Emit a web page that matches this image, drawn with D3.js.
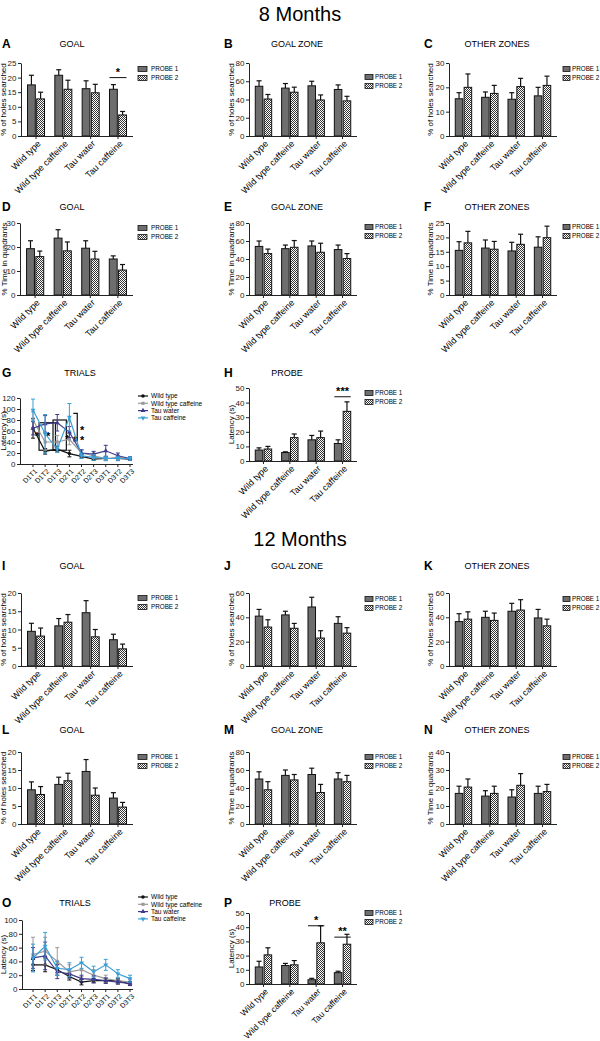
<!DOCTYPE html>
<html><head><meta charset="utf-8">
<script src="https://cdn.jsdelivr.net/npm/d3@7"></script>
<style>body{margin:0;background:#fff}svg{display:block;font-family:"Liberation Sans",Arial,sans-serif}</style>
</head><body>
<script>
// ---------- DATA ----------
const groups = ["Wild type","Wild type caffeine","Tau water","Tau caffeine"];
const probeNames = ["PROBE 1","PROBE 2"];
const trialLabels = ["D1T1","D1T2","D1T3","D2T1","D2T2","D2T3","D3T1","D3T2","D3T3"];
const trialSeries = ["Wild type","Wild type caffeine","Tau water","Tau caffeine"];

// 8 months
const A_p1=[17.5,20.8,16.2,16.0], A_e1=[3.3,1.9,2.7,1.6], A_p2=[12.7,16.0,14.8,7.2], A_e2=[2.3,3.1,2.9,1.2];
const A_ticks=[0,5,10,15,20,25]; const A_sig=[{g:"Tau caffeine",v:20,t:"*"}];
const B_p1=[54.5,52.5,55,51], B_e1=[6,5,5,5], B_p2=[40.5,48,39.5,38.5], B_e2=[5,5.5,5.5,5];
const B_ticks=[0,20,40,60,80];
const C_p1=[15.3,15.9,15.1,16.5], C_e1=[2.5,2.2,2.7,3.5], C_p2=[20,17.5,20.3,20.8], C_e2=[5.5,3.3,3.4,3.8];
const C_ticks=[0,10,20,30];
const D_p1=[19.3,23.7,19.5,15.0], D_e1=[3.3,3.5,3.1,1.3], D_p2=[16.0,18.4,15.0,10.4], D_e2=[2.3,3.7,3.2,2.3];
const D_ticks=[0,10,20,30];
const E_p1=[54,51.5,54.5,50.5], E_e1=[6,4,5.5,5], E_p2=[46,53,47.5,40.5], E_e2=[5,7.5,10,5.5];
const E_ticks=[0,20,40,60,80];
const F_p1=[15.5,16.3,15.3,16.6], F_e1=[3,2.8,3,3.6], F_p2=[18.1,15.9,17.6,19.9], F_e2=[4,2.7,3.5,4];
const F_ticks=[0,5,10,15,20,25];
const G_vals=[[65,23,27,19,14,9,10,10,9],[80,40,40,45,20,15,10,12,10],[65,73,75,58,20,18,24,15,10],[98,55,27,85,15,12,10,10,10]];
const G_errs=[[18,5,5,6,3,2,3,3,2],[15,15,12,10,5,5,3,4,3],[12,15,15,10,6,5,10,5,3],[20,35,6,25,5,5,4,4,3]];
const G_ticks=[0,20,40,60,80,100,120];
const H_p1=[7.5,5.8,14.5,12], H_e1=[1.5,0.5,3,2.5], H_p2=[8.2,16,16,34], H_e2=[1.8,2.5,4.5,6.5];
const H_ticks=[0,10,20,30,40,50]; const H_sig=[{g:"Tau caffeine",v:44,t:"***"}];
// 12 months
const I_p1=[9.5,11,14.6,7.2], I_e1=[2.2,2,3.3,1.5], I_p2=[8.2,12,8,4.7], I_e2=[2.2,2.1,2,1.3];
const I_ticks=[0,5,10,15,20];
const J_p1=[41,42,48.5,35], J_e1=[5.5,3,8,5.5], J_p2=[32,31,23,27], J_e2=[6,4,6,4.5];
const J_ticks=[0,20,40,60];
const K_p1=[36.5,40,45,39.5], K_e1=[6.5,5,6.5,7], K_p2=[38.5,37.5,46,33], K_e2=[6,6,8.5,5.5];
const K_ticks=[0,20,40,60];
const L_p1=[9.5,11,14.6,7.2], L_e1=[2.2,2,3.3,1.5], L_p2=[8.2,12,8,4.7], L_e2=[2.2,2.1,2,1.3];
const L_ticks=[0,5,10,15,20];
const M_p1=[50,54,55,50], M_e1=[8,6,7,7], M_p2=[38,49,35,47], M_e2=[9,6,9,7];
const M_ticks=[0,20,40,60,80];
const N_p1=[17,15.5,15,17], N_e1=[4,3,4,4], N_p2=[20.5,17,21.5,18], N_e2=[4.5,4,6.5,4];
const N_ticks=[0,10,20,30,40];
const O_vals=[[35,35,28,18,10,12,12,12,7],[50,55,40,25,28,20,15,12,10],[45,48,25,22,15,14,12,10,8],[45,62,30,28,38,25,35,22,15]];
const O_errs=[[8,10,8,5,4,3,3,3,2],[25,20,20,10,10,8,5,5,4],[15,20,10,6,5,5,4,3,3],[20,20,10,10,8,8,8,6,5]];
const O_ticks=[0,20,40,60,80,100];
const P_p1=[12,13,3,8], P_e1=[4,1.5,1,1], P_p2=[20.5,13.5,29,28], P_e2=[5,3,12,7];
const P_ticks=[0,10,20,30,40,50]; const P_sig=[{g:"Tau water",v:41,t:"*"},{g:"Tau caffeine",v:33,t:"**"}];

// ---------- DRAW ----------
const W=600,H=1041;
const svg=d3.select("body").append("svg").attr("width",W).attr("height",H);
svg.append("rect").attr("width",W).attr("height",H).attr("fill","#fff");
const defs=svg.append("defs");
const pat=defs.append("pattern").attr("id","chk").attr("patternUnits","userSpaceOnUse").attr("width",2).attr("height",2);
pat.append("rect").attr("width",2).attr("height",2).attr("fill","#fff");
pat.append("rect").attr("width",1).attr("height",1).attr("fill","#333");
pat.append("rect").attr("x",1).attr("y",1).attr("width",1).attr("height",1).attr("fill","#333");
const P1FILL="#6e6e6e";
const seriesColors=["#111","#9a9a9a","#3d3a8c","#3b9fd6"];
const seriesSymbols=[d3.symbolCircle,d3.symbolSquare,d3.symbolTriangle,d3.symbolTriangle];

svg.append("text").attr("x",300).attr("y",21).attr("text-anchor","middle").attr("font-size",20).text("8 Months");
svg.append("text").attr("x",300).attr("y",546).attr("text-anchor","middle").attr("font-size",20).text("12 Months");

function header(g,L){
  g.append("text").attr("x",L.letterX).attr("y",L.titleY+1).attr("font-size",12).attr("font-weight","bold").text(L.letter);
  g.append("text").attr("x",L.titleX).attr("y",L.titleY).attr("text-anchor","middle").attr("font-size",9).text(L.title);
}
function yAxis(g,L,y,ticks){
  const ax=g.append("g").attr("transform",`translate(${L.x0},0)`).call(d3.axisLeft(y).tickValues(ticks).tickSize(3).tickSizeOuter(0).tickPadding(1.5));
  ax.selectAll("text").attr("font-size",8).attr("fill","#222").attr("font-family","Liberation Sans,Arial");
  ax.select(".domain").attr("stroke","#222");
  ax.selectAll(".tick line").attr("stroke","#222");
  g.append("text").attr("transform",`translate(${L.ylx},${(L.top+L.bot)/2}) rotate(-90)`).attr("text-anchor","middle").attr("font-size",8).text(L.ylabel);
}
function xLabels(g,L,centers,labels,fs){
  g.append("line").attr("x1",L.x0).attr("x2",L.x1).attr("y1",L.bot+0.5).attr("y2",L.bot+0.5).attr("stroke","#222");
  labels.forEach((lab,i)=>{
    g.append("line").attr("x1",centers[i]).attr("x2",centers[i]).attr("y1",L.bot).attr("y2",L.bot+3).attr("stroke","#222");
    g.append("text").attr("transform",`translate(${centers[i]+3},${L.bot+6}) rotate(-45)`).attr("text-anchor","end").attr("dy","0.35em").attr("font-size",fs).text(lab);
  });
}

function barPanel(L,p1,e1,p2,e2,ticks,sig){
  const g=svg.append("g");
  header(g,L);
  const x=d3.scaleBand().domain(groups).range([L.x0,L.x1]).paddingInner(0.378).paddingOuter(0.238);
  const xs=d3.scaleBand().domain([0,1]).range([0,x.bandwidth()]).paddingInner(0.15);
  const y=d3.scaleLinear().domain([0,d3.max(ticks)]).range([L.bot,L.top]);
  const series=[[p1,e1],[p2,e2]];
  series.forEach(([vals,errs],s)=>{
    groups.forEach((gr,i)=>{
      const bx=x(gr)+xs(s), bw=xs.bandwidth(), cx=bx+bw/2;
      g.append("line").attr("x1",cx).attr("x2",cx).attr("y1",y(vals[i])).attr("y2",y(vals[i]+errs[i])).attr("stroke","#111").attr("stroke-width",1.2);
      g.append("line").attr("x1",cx-2.5).attr("x2",cx+2.5).attr("y1",y(vals[i]+errs[i])).attr("y2",y(vals[i]+errs[i])).attr("stroke","#111").attr("stroke-width",1.2);
      g.append("rect").attr("x",bx).attr("y",y(vals[i])).attr("width",bw).attr("height",L.bot-y(vals[i]))
        .attr("fill",s===0?P1FILL:"url(#chk)").attr("stroke","#111").attr("stroke-width",1);
    });
  });
  (sig||[]).forEach(sg=>{
    g.append("line").attr("x1",x(sg.g)).attr("x2",x(sg.g)+x.bandwidth()).attr("y1",y(sg.v)).attr("y2",y(sg.v)).attr("stroke","#111").attr("stroke-width",1);
    g.append("text").attr("x",x(sg.g)+x.bandwidth()/2).attr("y",y(sg.v)-2).attr("text-anchor","middle").attr("font-size",11).attr("font-weight","bold").text(sg.t);
  });
  yAxis(g,L,y,ticks);
  xLabels(g,L,groups.map(gr=>x(gr)+x.bandwidth()/2),groups,L.xfs||9);
  // legend
  const rw=L.lgRW||9, to=L.lgTO||13;
  probeNames.forEach((n,i)=>{
    g.append("rect").attr("x",L.lgX).attr("y",L.lgY+i*9-2.5).attr("width",rw).attr("height",5).attr("fill",i===0?P1FILL:"url(#chk)").attr("stroke","#111").attr("stroke-width",0.8);
    g.append("text").attr("x",L.lgX+to).attr("y",L.lgY+i*9).attr("dy","0.35em").attr("font-size",6.3).text(n);
  });
}

function trialPanel(L,vals,errs,ticks,extra){
  const g=svg.append("g");
  header(g,L);
  const x=d3.scalePoint().domain(trialLabels).range([L.px0,L.px1]);
  const y=d3.scaleLinear().domain([0,d3.max(ticks)]).range([L.bot,L.top]);
  if(extra) extra(g,x,y);
  vals.forEach((v,s)=>{
    const c=seriesColors[s];
    v.forEach((d,i)=>{
      const cx=x(trialLabels[i]);
      g.append("line").attr("x1",cx).attr("x2",cx).attr("y1",y(Math.max(0,d-errs[s][i]))).attr("y2",y(d+errs[s][i])).attr("stroke",c).attr("stroke-width",1);
      [d-errs[s][i],d+errs[s][i]].forEach(e=>g.append("line").attr("x1",cx-2).attr("x2",cx+2).attr("y1",y(Math.max(0,e))).attr("y2",y(Math.max(0,e))).attr("stroke",c).attr("stroke-width",1));
    });
    g.append("path").datum(v).attr("d",d3.line().x((d,i)=>x(trialLabels[i])).y(d=>y(d))).attr("fill","none").attr("stroke",c).attr("stroke-width",1.2);
    v.forEach((d,i)=>{
      g.append("path").attr("d",d3.symbol().type(seriesSymbols[s]).size(10)).attr("transform",`translate(${x(trialLabels[i])},${y(d)})${s===3?" rotate(180)":""}`).attr("fill",c);
    });
  });
  yAxis(g,L,y,ticks);
  xLabels(g,L,trialLabels.map(t=>x(t)),trialLabels,7);
  trialSeries.forEach((n,i)=>{
    const ly=L.lgY+i*7.3;
    g.append("line").attr("x1",L.lgX).attr("x2",L.lgX+10).attr("y1",ly).attr("y2",ly).attr("stroke",seriesColors[i]).attr("stroke-width",1.2);
    g.append("path").attr("d",d3.symbol().type(seriesSymbols[i]).size(10)).attr("transform",`translate(${L.lgX+5},${ly})${i===3?" rotate(180)":""}`).attr("fill",seriesColors[i]);
    g.append("text").attr("x",L.lgX+13).attr("y",ly).attr("dy","0.35em").attr("font-size",6.5).text(n);
  });
}

const col1={x0:21,x1:133,letterX:2,titleX:72,ylx:6,lgX:138};
const col2={x0:249,x1:357,letterX:224,titleX:297,ylx:234,lgX:365,lgRW:8,lgTO:10};
const col3={x0:449,x1:557,letterX:424,titleX:497,ylx:433,lgX:563,lgRW:7,lgTO:9};
const HS="% of holes searched", TQ="% Time in quadrants";

barPanel({...col1,letter:"A",title:"GOAL",top:63,bot:136,titleY:47,lgY:69,ylabel:HS},A_p1,A_e1,A_p2,A_e2,A_ticks,A_sig);
barPanel({...col2,letter:"B",title:"GOAL ZONE",top:63,bot:136,titleY:47,lgY:77,ylabel:HS},B_p1,B_e1,B_p2,B_e2,B_ticks);
barPanel({...col3,letter:"C",title:"OTHER ZONES",top:63,bot:136,titleY:47,lgY:69,ylabel:HS},C_p1,C_e1,C_p2,C_e2,C_ticks);
barPanel({...col1,x0:20,letter:"D",title:"GOAL",top:223,bot:295,titleY:210,lgY:228,ylabel:TQ,ylx:7},D_p1,D_e1,D_p2,D_e2,D_ticks);
barPanel({...col2,letter:"E",title:"GOAL ZONE",top:223,bot:295,titleY:210,lgY:227,ylabel:TQ},E_p1,E_e1,E_p2,E_e2,E_ticks);
barPanel({...col3,letter:"F",title:"OTHER ZONES",top:223,bot:295,titleY:210,lgY:227,ylabel:TQ},F_p1,F_e1,F_p2,F_e2,F_ticks);

trialPanel({x0:20,x1:133,px0:33,px1:130,letter:"G",letterX:2,title:"TRIALS",titleX:80,titleY:376,top:398,bot:464,ylx:6,ylabel:"Latency (s)",lgX:138,lgY:396},G_vals,G_errs,G_ticks,
  (g,x,y)=>{
    const st=x.step();
    const box=(a,b,lo,hi)=>g.append("rect").attr("x",a).attr("y",y(hi)).attr("width",b-a).attr("height",y(lo)-y(hi)).attr("fill","none").attr("stroke","#111").attr("stroke-width",1.2);
    box(x("D1T2")-0.5*st,x("D1T3")-0.15*st,25,75);
    box(x("D1T3")-0.35*st,x("D2T1")-0.25*st,25,80);
    const bx=x("D2T2")-0.35*st;
    g.append("path").attr("d",`M${bx-4},${y(92)}H${bx}V${y(42)}H${bx-4}`).attr("fill","none").attr("stroke","#111").attr("stroke-width",1.2);
    [[x("D1T1")+4,52],[x("D1T2")+3,52],[x("D2T1")-2,48],[bx+5,63],[bx+5,45],[bx-2,45]].forEach(([xx,vv])=>
      g.append("text").attr("x",xx).attr("y",y(vv)+5).attr("text-anchor","middle").attr("font-size",11).attr("font-weight","bold").text("*"));
  });
barPanel({...col2,letter:"H",title:"PROBE",titleX:287,top:388,bot:461,titleY:376,lgY:393,ylabel:"Latency (s)"},H_p1,H_e1,H_p2,H_e2,H_ticks,H_sig);

barPanel({...col1,letter:"I",title:"GOAL",top:593,bot:666,titleY:569,lgY:598,ylabel:HS},I_p1,I_e1,I_p2,I_e2,I_ticks);
barPanel({...col2,letter:"J",title:"GOAL ZONE",top:593,bot:666,titleY:569,lgY:599,ylabel:HS},J_p1,J_e1,J_p2,J_e2,J_ticks);
barPanel({...col3,letter:"K",title:"OTHER ZONES",top:593,bot:666,titleY:569,lgY:599,ylabel:HS},K_p1,K_e1,K_p2,K_e2,K_ticks);
barPanel({...col1,letter:"L",title:"GOAL",top:752,bot:824,titleY:733,lgY:757,ylabel:HS},L_p1,L_e1,L_p2,L_e2,L_ticks);
barPanel({...col2,letter:"M",title:"GOAL ZONE",top:752,bot:824,titleY:733,lgY:757,ylabel:TQ},M_p1,M_e1,M_p2,M_e2,M_ticks);
barPanel({...col3,letter:"N",title:"OTHER ZONES",top:752,bot:824,titleY:733,lgY:757,ylabel:TQ},N_p1,N_e1,N_p2,N_e2,N_ticks);

trialPanel({x0:22,x1:133,px0:33,px1:130,letter:"O",letterX:2,title:"TRIALS",titleX:75,titleY:906,top:920,bot:989,ylx:6,ylabel:"Latency (s)",lgX:138,lgY:897},O_vals,O_errs,O_ticks);
barPanel({...col2,letter:"P",title:"PROBE",titleX:285,top:913,bot:984,titleY:906,lgY:913,ylabel:"Latency (s)",xfs:8.5},P_p1,P_e1,P_p2,P_e2,P_ticks,P_sig);
</script>
</body></html>
